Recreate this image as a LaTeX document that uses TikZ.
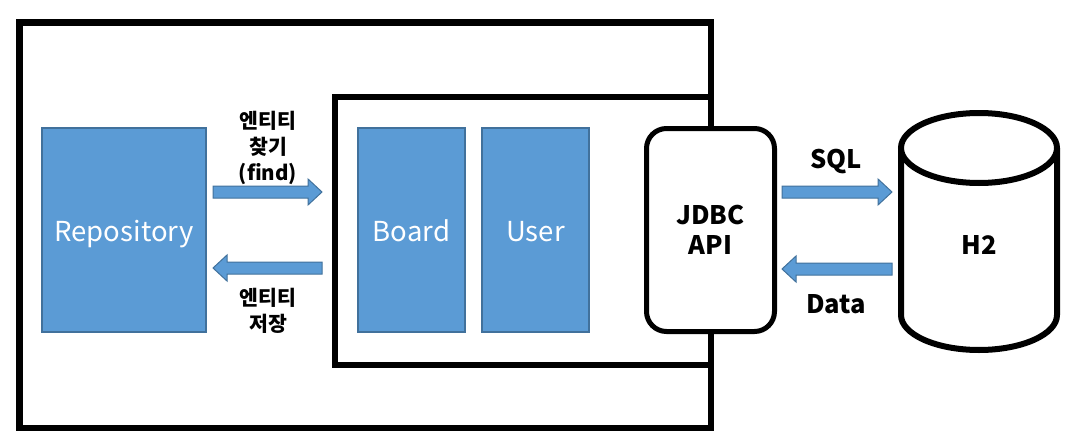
\documentclass[tikz,border=0pt]{standalone}
\usepackage{fontspec}
\setmainfont{Noto Sans CJK KR}
\definecolor{boxblue}{HTML}{5B9BD5}
\definecolor{boxedge}{HTML}{41719C}
\tikzset{
  frame/.style={draw=black, line width=6.5pt, fill=none, inner sep=0pt},
  bluebox/.style={draw=boxedge, fill=boxblue, line width=1.5pt, inner sep=0pt,
    text=white, font=\fontsize{27.5}{30}\selectfont, text height=22pt, text depth=0pt},
  apibox/.style={draw=black, fill=white, line width=5pt, rounded corners=20pt, inner sep=0pt},
  blabel/.style={font=\bfseries\fontsize{20.5}{24}\selectfont, inner sep=0pt},
  biglabel/.style={font=\bfseries\fontsize{25.5}{30}\selectfont, inner sep=0pt, align=center},
  barrow/.style={draw=boxedge, fill=boxblue, line width=1pt, line join=miter},
  cyl/.style={draw=black, line width=6pt, fill=white},
}
% block arrow: tail x, head-base x, tip x, center y
\newcommand\blockarrow[4]{%
  \draw[barrow] (#1,#4-6) -- (#2,#4-6) -- (#2,#4-13) -- (#3,#4) -- (#2,#4+13) -- (#2,#4+6) -- (#1,#4+6) -- cycle;}
\begin{document}
\begin{tikzpicture}[x=1pt,y=-1pt]
\useasboundingbox (0,0) rectangle (1080,447);
% frames
\node[frame, minimum width=691.5pt, minimum height=405.5pt] (outer) at (365.25,225.25) {};
\node[frame, minimum width=376pt, minimum height=268pt] (inner) at (523,231) {};
% blue boxes
\node[bluebox, minimum width=164pt, minimum height=204pt] (repo) at (124,230) {Repository};
\node[bluebox, minimum width=107pt, minimum height=204pt] (board) at (411.5,230) {Board};
\node[bluebox, minimum width=107pt, minimum height=204pt] (user) at (535.5,230) {User};
% JDBC
\node[apibox, minimum width=128pt, minimum height=203pt] (jdbc) at (710.5,230) {};
\node[biglabel] (jdbct) at (710.5,215) {JDBC};
\node[biglabel] (apit) at (710.5,245) {API};
% cylinder
\coordinate (cyltop) at (979,148);
\coordinate (cylbot) at (979,315);
\draw[cyl] (901,148) -- (901,315) arc[start angle=180, end angle=0, x radius=78, y radius=35] -- (1057,148);
\draw[cyl] (cyltop) ellipse [x radius=78, y radius=35];
\node[biglabel] (h2) at (979,245) {H2};
% arrows
\blockarrow{213}{308}{322}{192}
\blockarrow{322}{227}{213}{268}
\blockarrow{782}{878}{892}{192}
\blockarrow{892}{796}{782}{269}
% labels
\node[blabel] (l1) at (268,121) {엔티티};
\node[blabel] (l2) at (268,147) {찾기};
\node[blabel] (l3) at (268,174) {(find)};
\node[blabel] (l4) at (268,298) {엔티티};
\node[blabel] (l5) at (268,324) {저장};
\node[biglabel] (sql) at (836,162) {SQL};
\node[biglabel] (data) at (836,304) {Data};
\end{tikzpicture}
\end{document}
